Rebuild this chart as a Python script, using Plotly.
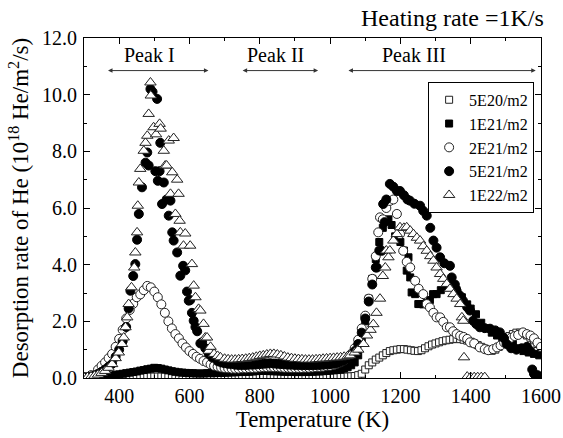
import plotly.graph_objects as go

# ---------------- data ----------------
series_names = ["5E20/m2", "1E21/m2", "2E21/m2", "5E21/m2", "1E22/m2"]

t_5e20 = [300, 310, 320, 330, 340, 350, 360, 370, 380, 390, 400, 410, 420, 430, 440, 450, 460, 470, 480, 490,
          500, 510, 520, 530, 540, 550, 560, 570, 580, 590, 600, 610, 620, 630, 640, 650, 660, 670, 680, 690,
          700, 710, 720, 730, 740, 750, 760, 770, 780, 790, 800, 810, 820, 830, 840, 850, 860, 870, 880, 890,
          900, 910, 920, 930, 940, 950, 960, 970, 980, 990, 1000, 1010, 1020, 1030, 1040, 1050, 1060, 1070,
          1080, 1090, 1100, 1110, 1120, 1130, 1140, 1150, 1160, 1170, 1180, 1190,
          1200, 1210, 1220, 1230, 1240, 1250, 1260, 1270, 1280, 1290, 1300, 1310, 1320, 1330, 1340,
          1350, 1360, 1370, 1380, 1390, 1400, 1410, 1420, 1430, 1440, 1450, 1460, 1470, 1480, 1490,
          1500, 1510, 1520, 1530, 1540, 1550, 1560, 1570, 1580, 1590, 1600]
v_5e20 = [0.02, 0.02, 0.02, 0.02, 0.03, 0.03, 0.03, 0.03, 0.03, 0.03, 0.03, 0.03, 0.04, 0.04, 0.04, 0.04, 0.04, 0.05, 0.05, 0.05,
          0.05, 0.05, 0.05, 0.05, 0.04, 0.04, 0.04, 0.04, 0.04, 0.04, 0.03, 0.03, 0.03, 0.03, 0.03, 0.03, 0.03, 0.03, 0.03, 0.03,
          0.03, 0.03, 0.03, 0.03, 0.03, 0.03, 0.03, 0.04, 0.04, 0.04, 0.04, 0.04, 0.04, 0.04, 0.04, 0.04, 0.04, 0.04, 0.03, 0.03,
          0.03, 0.03, 0.03, 0.03, 0.03, 0.03, 0.03, 0.03, 0.03, 0.03, 0.04, 0.04, 0.04, 0.04, 0.04, 0.05, 0.06, 0.07,
          0.1, 0.15, 0.3, 0.45, 0.55, 0.65, 0.72, 0.8, 0.88, 0.95, 0.98, 1.0,
          1.02, 1.02, 1.0, 0.98, 0.96, 0.95, 0.98, 1.05, 1.12, 1.18, 1.22, 1.26, 1.3, 1.33, 1.35,
          1.37, 1.38, 1.37, 1.35, 1.32, 1.28, 1.22, 1.16, 1.1, 1.04, 0.98, 0.96, 1.0, 1.1, 1.25,
          1.38, 1.48, 1.55, 1.6, 1.6, 1.57, 1.5, 1.42, 1.33, 1.2, 1.05]

t_1e21 = [300, 310, 320, 330, 340, 350, 360, 370, 380, 390, 400, 410, 420, 430, 440, 450, 460, 470, 480, 490,
          500, 510, 520, 530, 540, 550, 560, 570, 580, 590, 600, 610, 620, 630, 640, 650, 660, 670, 680, 690,
          700, 710, 720, 730, 740, 750, 760, 770, 780, 790, 800, 810, 820, 830, 840, 850, 860, 870, 880, 890,
          900, 910, 920, 930, 940, 950, 960, 970, 980, 990, 1000, 1010, 1020, 1030, 1040, 1050, 1060, 1070,
          1080, 1090, 1100, 1110, 1120, 1130, 1140, 1150, 1158,
          1166, 1175, 1185, 1200, 1210, 1218, 1223, 1228, 1232, 1242, 1251, 1256, 1265, 1275, 1284,
          1293, 1303, 1315, 1330, 1345, 1360, 1375, 1390, 1400, 1415, 1430, 1445, 1460, 1475, 1490,
          1505, 1520, 1535, 1550, 1565, 1580, 1595]
v_1e21 = [0.02, 0.02, 0.03, 0.03, 0.04, 0.05, 0.06, 0.07, 0.09, 0.11, 0.13, 0.15, 0.17, 0.19, 0.21, 0.23, 0.26, 0.28, 0.31, 0.33,
          0.36, 0.35, 0.33, 0.3, 0.27, 0.24, 0.22, 0.2, 0.19, 0.18, 0.17, 0.17, 0.16, 0.16, 0.16, 0.17, 0.17, 0.17, 0.18, 0.18,
          0.19, 0.19, 0.2, 0.2, 0.21, 0.21, 0.22, 0.22, 0.23, 0.24, 0.25, 0.25, 0.25, 0.24, 0.24, 0.23, 0.23, 0.22, 0.22, 0.22,
          0.21, 0.21, 0.21, 0.21, 0.22, 0.22, 0.23, 0.23, 0.24, 0.25, 0.26, 0.27, 0.28, 0.3, 0.33, 0.38, 0.45, 0.55,
          0.8, 1.3, 2.0, 2.8, 3.5, 4.2, 4.8, 5.3, 6.1,
          5.6, 5.4, 5.0, 4.8, 4.5, 3.79, 4.26, 3.55, 3.02, 2.96, 2.61, 2.61, 2.6, 2.65, 2.75,
          2.96, 2.96, 3.1, 3.2, 3.3, 3.1, 2.85, 2.6, 2.45, 2.25, 1.95, 1.75, 1.6, 1.5, 1.45,
          1.35, 1.2, 1.05, 0.95, 0.9, 0.85, 0.8]

t_2e21 = [300, 320, 340, 350, 360, 370, 380, 390, 400, 410, 420, 430, 440, 450, 460, 470, 480, 490, 500,
          510, 520, 530, 540, 550, 560, 570, 580, 590, 600, 610, 620, 630, 640, 650, 660, 670, 680, 690,
          700, 710, 720, 730, 740, 750, 760, 770, 780, 790, 800, 810, 820, 830, 840, 850, 860, 870, 880, 890,
          900, 910, 920, 930, 940, 950, 960, 970, 980, 990, 1000, 1010, 1020, 1030, 1040, 1050,
          1060, 1070, 1080, 1090, 1100, 1110, 1120, 1130, 1137, 1142, 1150, 1160, 1170, 1180,
          1190, 1199, 1208, 1218, 1228, 1242, 1252, 1265, 1275, 1284, 1294, 1303, 1313, 1322, 1332,
          1341, 1350, 1360, 1370, 1380, 1390, 1398, 1410, 1426, 1440, 1450, 1464, 1475, 1485, 1495,
          1505, 1515, 1525, 1535, 1549, 1560, 1570, 1580, 1590, 1600]
v_2e21 = [0.03, 0.1, 0.3, 0.43, 0.55, 0.7, 0.85, 1.1, 1.38, 1.7, 2.1, 2.4, 2.62, 2.85, 2.95, 3.1, 3.25, 3.2, 3.05,
          2.85, 2.6, 2.3, 2.0, 1.75, 1.55, 1.4, 1.22, 1.08, 0.95, 0.85, 0.75, 0.68, 0.6, 0.55, 0.48, 0.43, 0.4, 0.37,
          0.35, 0.34, 0.33, 0.33, 0.33, 0.34, 0.34, 0.35, 0.35, 0.36, 0.37, 0.38, 0.38, 0.39, 0.38, 0.38, 0.37, 0.36, 0.36, 0.35,
          0.35, 0.35, 0.35, 0.36, 0.36, 0.37, 0.38, 0.39, 0.4, 0.42, 0.43, 0.46, 0.5, 0.55, 0.62, 0.72,
          0.85, 1.05, 1.35, 1.75, 2.2, 2.8, 3.5, 4.3, 5.14, 5.67, 5.6, 6.0, 6.25, 6.3,
          5.79, 5.08, 4.49, 4.1, 3.9, 3.43, 3.15, 2.96, 2.61, 2.49, 2.3, 2.14, 2.14, 1.98, 1.79,
          1.79, 1.65, 1.55, 1.49, 1.45, 1.38, 1.26, 1.22, 1.08, 1.02, 0.98, 1.02, 1.08, 1.15, 1.25,
          1.33, 1.42, 1.48, 1.52, 1.61, 1.55, 1.5, 1.4, 1.25, 1.1]

t_5e21 = [300, 310, 320, 330, 340, 350, 360, 370, 380, 390, 400, 410, 420, 427, 432, 440, 446, 451, 456, 465, 475, 480, 484,
          489, 495, 503, 508, 510, 515, 517, 522, 527, 535, 541, 546, 551, 555, 565, 574, 582, 588,
          593, 598, 602, 607, 612, 617, 622, 631, 636, 645, 655, 665, 680, 690,
          700, 710, 720, 730, 740, 750, 760, 770, 780, 790, 800, 810, 820, 830, 840, 850, 860, 870, 880, 890,
          900, 910, 920, 930, 940, 950, 960, 970, 980, 990, 1000, 1010, 1020, 1030, 1040, 1050, 1060,
          1070, 1080, 1090, 1100, 1110, 1120, 1130, 1133, 1140, 1147, 1151, 1155,
          1160, 1170, 1180, 1190, 1199, 1210, 1220, 1227, 1240, 1256, 1265, 1275, 1285, 1294, 1303,
          1313, 1325, 1341, 1346, 1355, 1360, 1370, 1378, 1390, 1398, 1407, 1416, 1426, 1440, 1455,
          1470, 1483, 1495, 1502, 1515, 1530, 1545, 1560, 1570, 1575, 1580, 1590, 1600]
v_5e21 = [0.02, 0.03, 0.05, 0.09, 0.15, 0.22, 0.3, 0.4, 0.5, 0.75, 1.0, 1.3, 1.8, 2.45, 3.08, 3.6, 4.02, 4.88, 5.79, 6.73, 7.6, 7.96, 7.5,
          10.2, 10.1, 7.3, 9.85, 6.96, 7.3, 8.3, 6.14, 6.9, 6.3, 5.73, 6.26, 5.14, 4.85, 4.43, 3.61, 3.96, 3.8,
          3.05, 2.73, 2.75, 2.3, 2.02, 1.8, 1.65, 1.22, 1.26, 1.05, 0.85, 0.72, 0.6, 0.55,
          0.52, 0.5, 0.49, 0.47, 0.46, 0.46, 0.46, 0.47, 0.47, 0.48, 0.49, 0.5, 0.51, 0.52, 0.51, 0.5, 0.49, 0.48, 0.47, 0.47,
          0.46, 0.46, 0.45, 0.45, 0.45, 0.45, 0.46, 0.46, 0.47, 0.48, 0.49, 0.5, 0.53, 0.57, 0.63, 0.7, 0.8,
          0.95, 1.2, 1.6, 2.1, 2.7, 3.3, 3.9, 3.9, 4.5, 4.49, 6.14, 5.5,
          6.3, 6.85, 6.75, 6.6, 6.6, 6.45, 6.3, 6.26, 6.15, 6.08, 5.9, 5.73, 5.3, 4.85, 4.6,
          4.26, 4.05, 3.96, 3.55, 3.3, 3.08, 2.9, 2.73, 2.5, 2.38, 2.02, 1.9, 1.79, 1.76, 1.74,
          1.68, 1.61, 1.4, 1.2, 1.05, 1.0, 1.05, 1.1, 0.95, 0.3, 0.15, 0.1, 0.05]

t_1e22 = [300, 310, 320, 330, 340, 350, 360, 370, 380, 390, 399, 408, 413, 418, 423, 427, 435, 443, 446, 451, 453, 456, 460,
          470, 475, 480, 484, 489, 490, 498, 505, 515, 518, 527, 531, 535, 541, 546, 551, 555, 560,
          565, 569, 572, 574, 583, 588, 602, 607, 612, 617, 626, 631, 640, 645, 650, 655, 660, 670, 680, 688,
          700, 710, 720, 730, 740, 750, 760, 770, 780, 790, 800, 810, 820, 830, 840, 850, 860, 870, 880, 890,
          900, 910, 920, 930, 940, 950, 960, 970, 980, 990, 1000, 1010, 1020, 1030, 1040, 1050,
          1057, 1070, 1080, 1095, 1105, 1115, 1123, 1132, 1142, 1150, 1157, 1160, 1166, 1170,
          1180, 1190, 1199, 1210, 1218, 1228, 1237, 1247, 1256, 1265, 1275, 1285, 1294, 1303, 1313,
          1322, 1332, 1341, 1351, 1360, 1370, 1375, 1379, 1381, 1390, 1400, 1410, 1420, 1430, 1440]
v_1e22 = [0.02, 0.03, 0.05, 0.08, 0.12, 0.18, 0.25, 0.36, 0.49, 0.7, 0.9, 1.2, 1.43, 1.79, 2.14, 2.61, 3.2, 3.9, 4.43, 5.14, 6.08, 6.9, 7.38,
          8.02, 8.3, 8.55, 9.32, 10.43, 9.97, 8.85, 8.6, 8.97, 8.8, 8.02, 7.5, 7.5, 8.38, 6.5, 7.26, 8.47, 5.79,
          7.0, 6.5, 5.55, 5.14, 4.67, 5.1, 4.67, 4.02, 3.26, 2.85, 2.44, 2.38, 1.91, 1.43, 1.43, 0.96, 1.1, 0.85, 0.78, 0.73,
          0.68, 0.66, 0.65, 0.65, 0.66, 0.67, 0.68, 0.7, 0.72, 0.75, 0.78, 0.8, 0.83, 0.85, 0.85, 0.83, 0.8, 0.76, 0.72, 0.7,
          0.68, 0.67, 0.66, 0.65, 0.65, 0.65, 0.66, 0.67, 0.68, 0.69, 0.7, 0.71, 0.72, 0.73, 0.75, 0.77,
          0.8, 0.9, 1.0, 1.2, 1.5, 1.7, 1.9, 2.3, 2.8, 3.6, 3.9, 4.5, 4.26, 4.5,
          4.85, 5.08, 5.32, 5.3, 5.32, 5.2, 5.08, 4.95, 4.85, 4.65, 4.49, 4.3, 4.14, 3.9, 3.67,
          3.5, 3.32, 3.15, 2.96, 2.8, 2.61, 2.14, 2.02, 0.73, 0.05, 0.03, 0.03, 0.03, 0.03, 0.03]

x_ticks = [400, 600, 800, 1000, 1200, 1400, 1600]
y_ticks = [0, 2, 4, 6, 8, 10, 12]

peak_names = ["Peak I", "Peak II", "Peak III"]
peak_label_x = [486, 845, 1240]
peak_arrow_start = [364, 747, 1048]
peak_arrow_end = [654, 966, 1585]
peak_label_y = 11.4
peak_arrow_y = 10.85

FONT = "Liberation Serif"

# ---------------- figure ----------------
styles = [
    dict(symbol="square", size=7, color="white", line=dict(color="#222", width=1)),
    dict(symbol="square", size=7, color="black", line=dict(color="black", width=1)),
    dict(symbol="circle", size=9, color="white", line=dict(color="#222", width=1)),
    dict(symbol="circle", size=9, color="black", line=dict(color="black", width=1)),
    dict(symbol="triangle-up", size=10, color="white", line=dict(color="#222", width=1)),
]
xs = [t_5e20, t_1e21, t_2e21, t_5e21, t_1e22]
ys = [v_5e20, v_1e21, v_2e21, v_5e21, v_1e22]

fig = go.Figure()
for name, x, y, st in zip(series_names, xs, ys, styles):
    fig.add_trace(go.Scatter(x=x, y=y, mode="markers", name=name, marker=st, cliponaxis=True))

axis_common = dict(
    showline=True, linecolor="black", linewidth=1, mirror="ticks",
    ticks="inside", ticklen=6, tickcolor="black", showgrid=False, zeroline=False,
    tickfont=dict(family=FONT, size=20, color="black"), automargin=False,
)
fig.update_xaxes(range=[300, 1600], tickvals=x_ticks,
                 minor=dict(dtick=100, ticks="inside", ticklen=3, tickcolor="black"),
                 title=dict(text="Temperature (K)", font=dict(family=FONT, size=23, color="black"), standoff=4),
                 **axis_common)
fig.update_yaxes(range=[0, 12], tickvals=y_ticks, tickformat=".1f", ticklabelstandoff=2,
                 minor=dict(dtick=1, ticks="inside", ticklen=3, tickcolor="black"),
                 title=dict(text="Desorption rate of He (10<sup>18</sup> He/m<sup>2</sup>/s)",
                            font=dict(family=FONT, size=23, color="black"), standoff=6),
                 **axis_common)

annotations = [dict(text="Heating rate =1K/s", xref="paper", yref="paper", x=1.01, y=1.059,
                    xanchor="right", yanchor="middle", showarrow=False,
                    font=dict(family=FONT, size=24, color="black"))]
for name, lx, a0, a1 in zip(peak_names, peak_label_x, peak_arrow_start, peak_arrow_end):
    annotations.append(dict(text=name, x=lx, y=peak_label_y, xref="x", yref="y", showarrow=False,
                            font=dict(family=FONT, size=20, color="black")))
    annotations.append(dict(text="", x=a1, y=peak_arrow_y, ax=a0, ay=peak_arrow_y,
                            xref="x", yref="y", axref="x", ayref="y", showarrow=True,
                            arrowhead=2, startarrowhead=2, arrowside="end+start",
                            arrowsize=0.9, startarrowsize=0.9, arrowwidth=1, arrowcolor="#333"))

fig.update_layout(
    width=563, height=438,
    margin=dict(l=84, r=22, t=38, b=60),
    paper_bgcolor="white", plot_bgcolor="white",
    font=dict(family=FONT, color="black"),
    annotations=annotations,
    legend=dict(x=0.753, y=0.871, xanchor="left", yanchor="top",
                bgcolor="white", bordercolor="black", borderwidth=1,
                font=dict(family=FONT, size=16, color="black"),
                tracegroupgap=0, itemwidth=30),
    showlegend=True,
)

# remove the browser's default 8px body margin so the figure fills the window exactly
fig.write_html("out.html", config={"displayModeBar": False},
               post_script="document.body.style.margin='0';document.body.style.overflow='hidden';")
